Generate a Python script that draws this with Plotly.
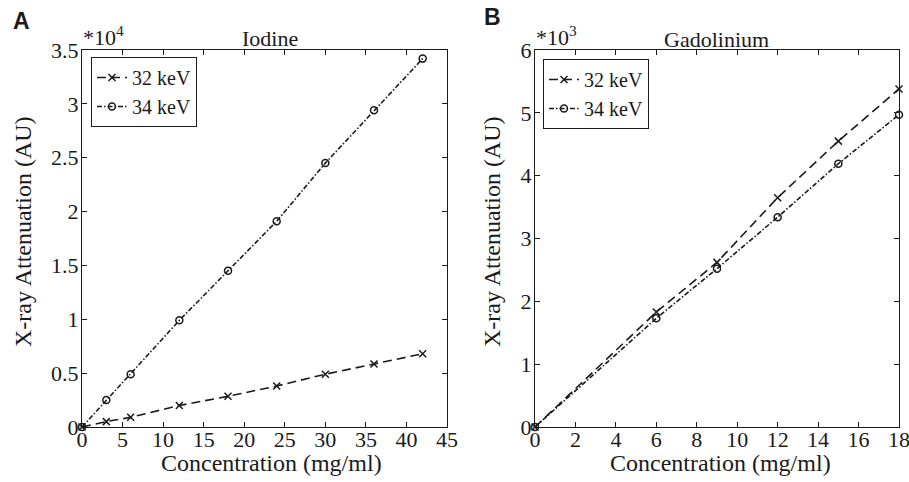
import plotly.graph_objects as go

# Iodine panel data
iod_conc = [0, 3, 6, 12, 18, 24, 30, 36, 42]
iod_32kev = [0, 500, 900, 2000, 2850, 3800, 4900, 5850, 6800]
iod_34kev = [0, 2500, 4900, 9900, 14500, 19100, 24500, 29400, 34200]

# Gadolinium panel data
gd_conc = [0, 6, 9, 12, 15, 18]
gd_32kev = [0, 1830, 2620, 3650, 4550, 5380]
gd_34kev = [0, 1730, 2520, 3340, 4190, 4970]

iod_yticks = [0, 5000, 10000, 15000, 20000, 25000, 30000, 35000]
iod_yticktext = ["0", "0.5", "1", "1.5", "2", "2.5", "3", "3.5"]
gd_yticks = [0, 1000, 2000, 3000, 4000, 5000, 6000]
gd_yticktext = ["0", "1", "2", "3", "4", "5", "6"]

FONT = "Times New Roman, Liberation Serif, serif"
SANS = "Arial, Liberation Sans, sans-serif"
BLACK = "#1a1a1a"

fig = go.Figure()

def add_series(x, y, name, xa, ya, legend, dash, symbol):
    fig.add_trace(go.Scatter(
        x=x, y=y, name=name, mode="lines+markers",
        xaxis=xa, yaxis=ya, legend=legend, cliponaxis=False,
        line=dict(color=BLACK, width=1.6, dash=dash),
        marker=dict(symbol=symbol, size=7, color=BLACK,
                    line=dict(color=BLACK, width=1.5)),
    ))

DASH32 = "9px,5px"
DASH34 = "5px,2px,1.5px,2px"

add_series(iod_conc, iod_32kev, "32 keV", "x", "y", "legend", DASH32, "x-thin-open")
add_series(iod_conc, iod_34kev, "34 keV", "x", "y", "legend", DASH34, "circle-open")
add_series(gd_conc, gd_32kev, "32 keV", "x2", "y2", "legend2", DASH32, "x-thin-open")
add_series(gd_conc, gd_34kev, "34 keV", "x2", "y2", "legend2", DASH34, "circle-open")

W, H = 909, 482
ml, mr, mt, mb = 82, 10, 50, 55
pw = W - ml - mr
ph = H - mt - mb
d1 = [0, (447 - ml) / pw]
d2 = [(535 - ml) / pw, 1]

axis_common = dict(
    showgrid=False, zeroline=False, showline=True, linecolor=BLACK, linewidth=1,
    mirror="ticks", ticks="inside", ticklen=5, tickcolor=BLACK, automargin=False,
    ticklabeloverflow="allow",
    tickfont=dict(family=FONT, size=22, color=BLACK),
)
xaxis_extra = dict(ticklabelstandoff=-7)

fig.update_layout(
    width=W, height=H,
    margin=dict(l=ml, r=mr, t=mt, b=mb, autoexpand=False),
    paper_bgcolor="white", plot_bgcolor="white",
    font=dict(family=FONT, size=22, color=BLACK),
    xaxis=dict(domain=d1, range=[0, 45], tickvals=list(range(0, 46, 5)), anchor="y",
               **axis_common, **xaxis_extra),
    yaxis=dict(range=[0, 35000], tickvals=iod_yticks, ticktext=iod_yticktext, anchor="x",
               ticklabelstandoff=-2, **axis_common),
    xaxis2=dict(domain=d2, range=[0, 18], tickvals=list(range(0, 19, 2)), anchor="y2",
                **axis_common, **xaxis_extra),
    yaxis2=dict(range=[0, 6000], tickvals=gd_yticks, ticktext=gd_yticktext, anchor="x2",
                ticklabelstandoff=-2, **axis_common),
    legend=dict(x=(91 - ml) / pw, y=(H - mb - 57) / ph, xanchor="left", yanchor="top",
                xref="paper", yref="paper",
                bgcolor="white", bordercolor=BLACK, borderwidth=1,
                font=dict(family=FONT, size=20, color=BLACK),
                tracegroupgap=0, itemwidth=30),
    legend2=dict(x=(543 - ml) / pw, y=(H - mb - 59) / ph, xanchor="left", yanchor="top",
                 xref="paper", yref="paper",
                 bgcolor="white", bordercolor=BLACK, borderwidth=1,
                 font=dict(family=FONT, size=20, color=BLACK),
                 tracegroupgap=0, itemwidth=30),
    showlegend=True,
)

def px_ann(text, x, y, size, family=FONT, bold=False, xanchor="center", angle=0):
    if bold:
        text = "<b>" + text + "</b>"
    fig.add_annotation(text=text, x=(x - ml) / pw, y=(H - mb - y) / ph,
                       xref="paper", yref="paper", textangle=angle,
                       xanchor=xanchor, yanchor="middle", showarrow=False,
                       font=dict(family=family, size=size, color=BLACK))

px_ann("Iodine", 270, 38, 22)
px_ann("Gadolinium", 716, 39, 22)
px_ann("*10<sup>4</sup>", 81, 36, 22, xanchor="left")
px_ann("*10<sup>3</sup>", 534, 36, 22, xanchor="left")
px_ann("A", 11, 21, 23, family=SANS, bold=True, xanchor="left")
px_ann("B", 482, 17, 23, family=SANS, bold=True, xanchor="left")
px_ann("Concentration (mg/ml)", 271, 463, 24)
px_ann("Concentration (mg/ml)", 720, 463, 24)
px_ann("X-ray Attenuation (AU)", 23, 232, 24, angle=-90)
px_ann("X-ray Attenuation (AU)", 492, 232, 24, angle=-90)

fig.write_html("out.html", config={"displayModeBar": False},
               post_script="document.body.style.margin='0';")
